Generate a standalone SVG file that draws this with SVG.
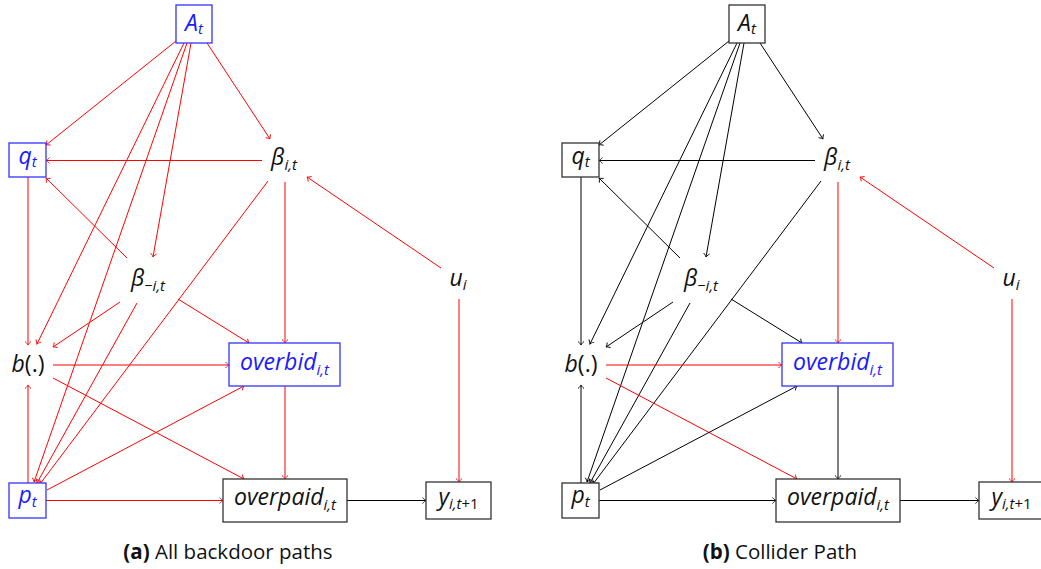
<svg xmlns="http://www.w3.org/2000/svg" width="1041" height="569" viewBox="0 0 1041 569">
<defs>
<marker id="ar" viewBox="-5 -5 10 10" markerWidth="10" markerHeight="10" refX="0" refY="0" orient="auto" markerUnits="userSpaceOnUse"><path d="M-3.5,-3 C-2,-1.2 -0.6,-0.2 0,0 C-0.6,0.2 -2,1.2 -3.5,3" fill="none" stroke="#ff0000" stroke-width="0.9"/></marker>
<marker id="ak" viewBox="-5 -5 10 10" markerWidth="10" markerHeight="10" refX="0" refY="0" orient="auto" markerUnits="userSpaceOnUse"><path d="M-3.5,-3 C-2,-1.2 -0.6,-0.2 0,0 C-0.6,0.2 -2,1.2 -3.5,3" fill="none" stroke="#000" stroke-width="0.9"/></marker>
</defs>
<style>
.r{stroke:#ff0000;stroke-width:1;fill:none;marker-end:url(#ar)}
.k{stroke:#000;stroke-width:1;fill:none;marker-end:url(#ak)}
.bx{fill:#fff;stroke:#333;stroke-width:1.3}
.bb{fill:#fff;stroke:#3333ff;stroke-width:1.3}
.m{font-family:"Open Sans","Noto Sans",sans-serif;font-style:italic;font-size:23px;fill:#111;text-anchor:middle}
.mb{fill:#1a1aff}
.s{font-size:15px}
.u{font-style:normal}
.cap{font-family:"Open Sans","Noto Sans",sans-serif;font-size:20.5px;fill:#111;text-anchor:middle}
</style>

<!-- Panel (a) -->
<g id="edges-a">
<line class="r" x1="176" y1="41" x2="46" y2="145"/>
<line class="r" x1="207" y1="43" x2="270" y2="139"/>
<line class="r" x1="191" y1="43" x2="153" y2="257"/>
<line class="r" x1="184" y1="43" x2="37" y2="344"/>
<line class="r" x1="187" y1="43" x2="34" y2="482"/>
<line class="r" x1="262" y1="160.5" x2="46" y2="160.5"/>
<line class="r" x1="441" y1="268" x2="307" y2="177"/>
<line class="r" x1="285" y1="182" x2="285" y2="343"/>
<line class="r" x1="268" y1="181" x2="40" y2="484"/>
<line class="r" x1="28" y1="177" x2="28" y2="345"/>
<line class="r" x1="127" y1="258" x2="46" y2="178"/>
<line class="r" x1="120" y1="302" x2="53" y2="347"/>
<line class="r" x1="137" y1="303" x2="37" y2="483"/>
<line class="r" x1="178" y1="299" x2="249" y2="343"/>
<line class="r" x1="459" y1="299" x2="459" y2="482"/>
<line class="r" x1="53" y1="365" x2="229" y2="365"/>
<line class="r" x1="53" y1="378" x2="244" y2="479"/>
<line class="r" x1="28" y1="483" x2="28" y2="385"/>
<line class="r" x1="47" y1="490" x2="244" y2="386"/>
<line class="r" x1="46" y1="500.5" x2="223" y2="500.5"/>
<line class="r" x1="285" y1="386" x2="285" y2="479"/>
<line class="k" x1="347" y1="500.5" x2="426" y2="500.5"/>
</g>
<g id="a-At"><rect class="bb" x="176" y="5" width="36" height="38"/><text class="m mb" x="194" y="31">A<tspan class="s" dy="3">t</tspan></text></g>
<g id="a-qt"><rect class="bb" x="9" y="143" width="37" height="34"/><text class="m mb" x="27.5" y="164">q<tspan class="s" dy="3">t</tspan></text></g>
<g id="a-beta"><text class="m" x="284" y="165">β<tspan class="s" dy="5">i,t</tspan></text></g>
<g id="a-betami"><text class="m" x="148" y="286">β<tspan class="s" dy="5">−i,t</tspan></text></g>
<g id="a-ui"><text class="m" x="458" y="286">u<tspan class="s" dy="4">i</tspan></text></g>
<g id="a-b"><text class="m" x="28" y="372">b<tspan class="u">(.)</tspan></text></g>
<g id="a-overbid"><rect class="bb" x="229" y="343" width="111" height="43"/><text class="m mb" x="284.5" y="370">overbid<tspan class="s" dy="5">i,t</tspan></text></g>
<g id="a-pt"><rect class="bb" x="9" y="483" width="37" height="35"/><text class="m mb" x="27.5" y="503">p<tspan class="s" dy="4">t</tspan></text></g>
<g id="a-overpaid"><rect class="bx" x="223" y="479" width="124" height="43"/><text class="m" x="285" y="505">overpaid<tspan class="s" dy="5">i,t</tspan></text></g>
<g id="a-y"><rect class="bx" x="426" y="482" width="65" height="37"/><text class="m" x="458.5" y="505">y<tspan class="s" dy="4">i,t</tspan><tspan class="s u">+1</tspan></text></g>
<text class="cap" x="228" y="559"><tspan font-weight="bold">(a)</tspan> All backdoor paths</text>

<!-- Panel (b) -->
<g transform="translate(553,0)">
<g id="edges-b">
<line class="k" x1="176" y1="41" x2="46" y2="145"/>
<line class="k" x1="207" y1="43" x2="270" y2="139"/>
<line class="k" x1="191" y1="43" x2="153" y2="257"/>
<line class="k" x1="184" y1="43" x2="37" y2="344"/>
<line class="k" x1="187" y1="43" x2="34" y2="482"/>
<line class="k" x1="262" y1="160.5" x2="46" y2="160.5"/>
<line class="r" x1="441" y1="268" x2="307" y2="177"/>
<line class="r" x1="285" y1="182" x2="285" y2="343"/>
<line class="k" x1="268" y1="181" x2="40" y2="484"/>
<line class="k" x1="28" y1="177" x2="28" y2="345"/>
<line class="k" x1="127" y1="258" x2="46" y2="178"/>
<line class="k" x1="120" y1="302" x2="53" y2="347"/>
<line class="k" x1="137" y1="303" x2="37" y2="483"/>
<line class="k" x1="178" y1="299" x2="249" y2="343"/>
<line class="r" x1="459" y1="299" x2="459" y2="482"/>
<line class="r" x1="53" y1="365" x2="229" y2="365"/>
<line class="r" x1="53" y1="378" x2="244" y2="479"/>
<line class="k" x1="28" y1="483" x2="28" y2="385"/>
<line class="k" x1="47" y1="490" x2="244" y2="386"/>
<line class="k" x1="46" y1="500.5" x2="223" y2="500.5"/>
<line class="k" x1="285" y1="386" x2="285" y2="479"/>
<line class="k" x1="347" y1="500.5" x2="426" y2="500.5"/>
</g>
<g id="b-At"><rect class="bx" x="176" y="5" width="36" height="38"/><text class="m" x="194" y="31">A<tspan class="s" dy="3">t</tspan></text></g>
<g id="b-qt"><rect class="bx" x="9" y="143" width="37" height="34"/><text class="m" x="27.5" y="164">q<tspan class="s" dy="3">t</tspan></text></g>
<g id="b-beta"><text class="m" x="284" y="165">β<tspan class="s" dy="5">i,t</tspan></text></g>
<g id="b-betami"><text class="m" x="148" y="286">β<tspan class="s" dy="5">−i,t</tspan></text></g>
<g id="b-ui"><text class="m" x="458" y="286">u<tspan class="s" dy="4">i</tspan></text></g>
<g id="b-b"><text class="m" x="28" y="372">b<tspan class="u">(.)</tspan></text></g>
<g id="b-overbid"><rect class="bb" x="229" y="343" width="111" height="43"/><text class="m mb" x="284.5" y="370">overbid<tspan class="s" dy="5">i,t</tspan></text></g>
<g id="b-pt"><rect class="bx" x="9" y="483" width="37" height="35"/><text class="m" x="27.5" y="503">p<tspan class="s" dy="4">t</tspan></text></g>
<g id="b-overpaid"><rect class="bx" x="223" y="479" width="124" height="43"/><text class="m" x="285" y="505">overpaid<tspan class="s" dy="5">i,t</tspan></text></g>
<g id="b-y"><rect class="bx" x="426" y="482" width="65" height="37"/><text class="m" x="458.5" y="505">y<tspan class="s" dy="4">i,t</tspan><tspan class="s u">+1</tspan></text></g>
<text class="cap" x="227" y="559"><tspan font-weight="bold">(b)</tspan> Collider Path</text>
</g>
</svg>
